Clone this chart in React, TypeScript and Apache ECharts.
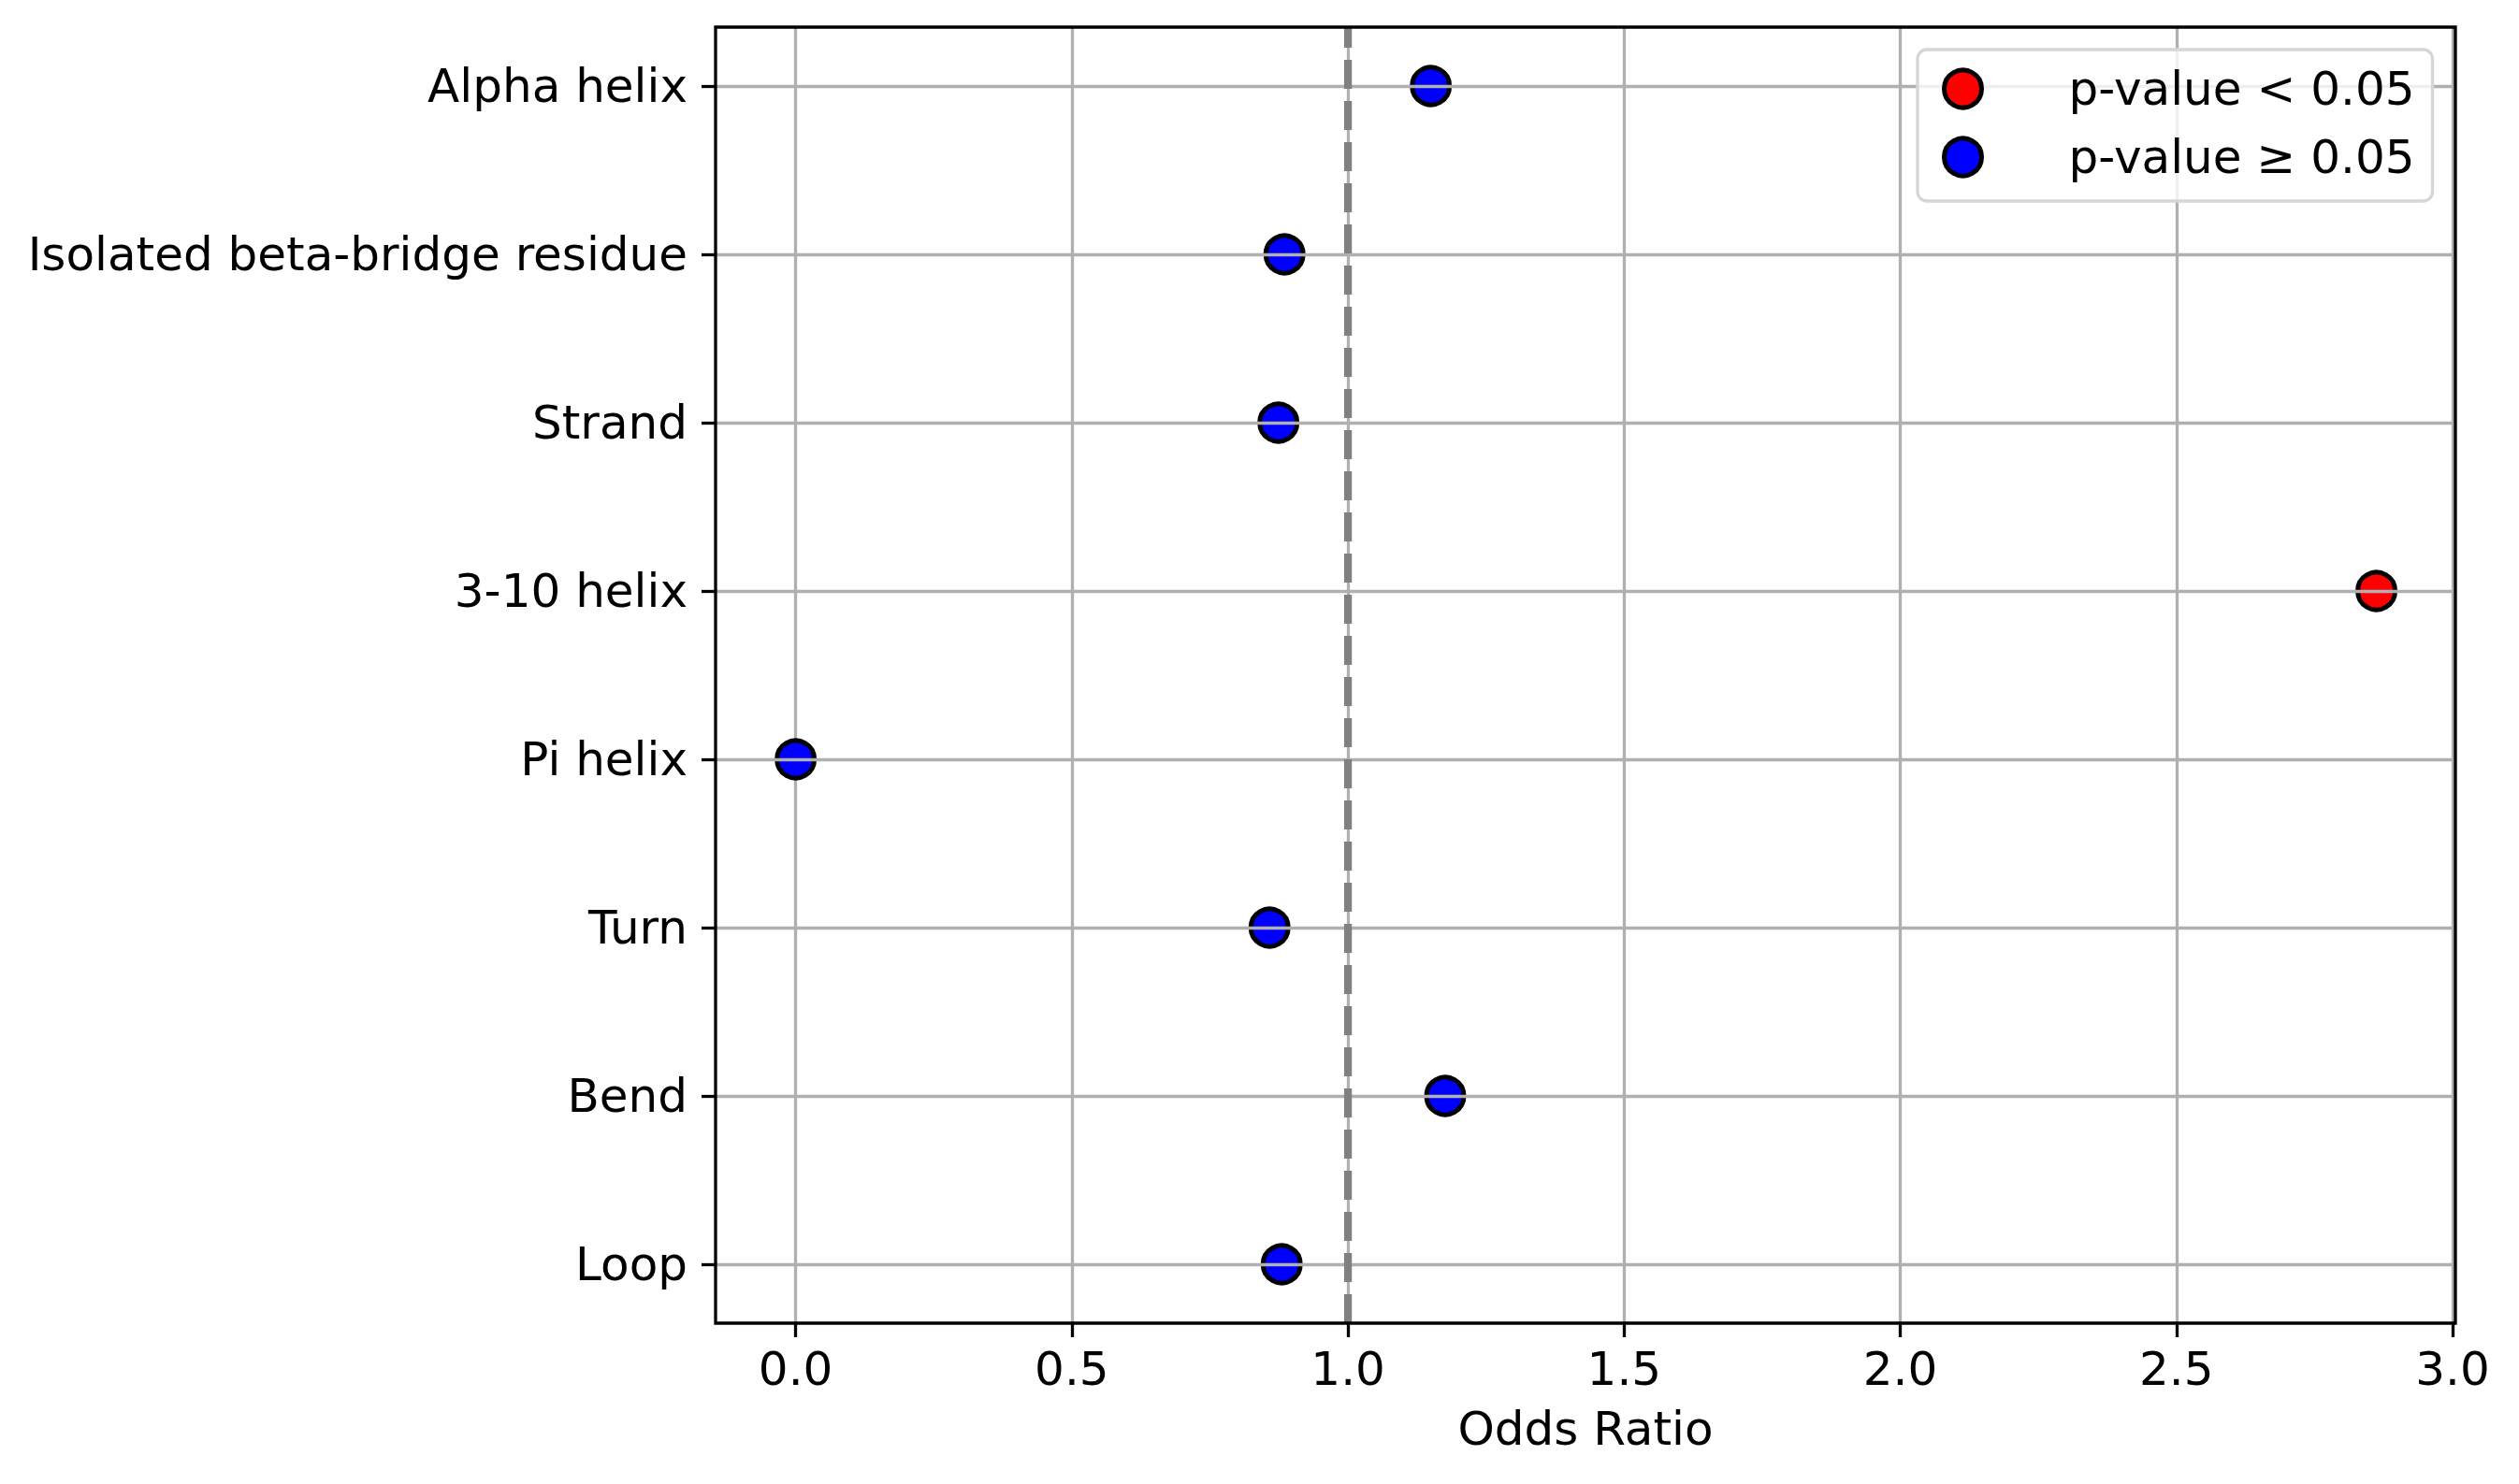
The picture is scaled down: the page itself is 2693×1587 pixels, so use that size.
import React, { useEffect, useRef } from "react";
import * as echarts from "echarts";

// ---- data ----
const categories = [
  "Alpha helix",
  "Isolated beta-bridge residue",
  "Strand",
  "3-10 helix",
  "Pi helix",
  "Turn",
  "Bend",
  "Loop",
];
const oddsRatios = [1.15, 0.885, 0.874, 2.862, 0.0, 0.858, 1.176, 0.88];
const significant = [false, false, false, true, false, false, false, false];
const legendNames = ["p-value < 0.05", "p-value \u2265 0.05"];
const referenceOdds = 1.0;
const xAxisMin = -0.145;
const xAxisMax = 3.005;
const xTickMin = 0;
const xTickMax = 3;
const xTickStep = 0.5;

// ---- layout ----
const W = 2693;
const H = 1587;
const FRAME_L = 765;
const FRAME_T = 29;
const FRAME_R = 2625;
const FRAME_B = 1415;
const FONT = "'DejaVu Sans', sans-serif";

export default function App() {
  const ref = useRef<HTMLDivElement>(null);
  useEffect(() => {
    if (!ref.current) return;
    const chart = echarts.init(ref.current, null, { renderer: "svg" });

    const frameW = FRAME_R - FRAME_L;
    const frameH = FRAME_B - FRAME_T;
    const ppu = frameW / (xAxisMax - xAxisMin);
    const tickGridL = FRAME_L + (xTickMin - xAxisMin) * ppu;
    const tickGridW = (xTickMax - xTickMin) * ppu;
    const yMargin = 0.35;
    const rowH = frameH / (categories.length - 1 + 2 * yMargin);
    const rowGridT = FRAME_T + yMargin * rowH;
    const rowGridH = (categories.length - 1) * rowH;

    const sigData: [number, string][] = [];
    const nsData: [number, string][] = [];
    categories.forEach((c, i) => {
      (significant[i] ? sigData : nsData).push([oddsRatios[i], c]);
    });

    const gridColor = "#b0b0b0";
    const lw = 3.3;

    const option: any = {
      animation: false,
      backgroundColor: "#ffffff",
      textStyle: { fontFamily: FONT },
      grid: [
        // 0: x ticks / vertical gridlines
        { left: tickGridL, top: FRAME_T, width: tickGridW, height: frameH, show: false },
        // 1: category rows / data
        { left: FRAME_L, top: rowGridT, width: frameW, height: rowGridH, show: false },
        // 2: frame
        {
          left: FRAME_L,
          top: FRAME_T,
          width: frameW,
          height: frameH,
          show: true,
          borderColor: "#000000",
          borderWidth: lw,
          backgroundColor: "transparent",
          z: 5,
        },
      ],
      xAxis: [
        {
          gridIndex: 0,
          type: "value",
          min: xTickMin,
          max: xTickMax,
          interval: xTickStep,
          z: 0,
          axisLine: { show: false, onZero: false },
          axisTick: { show: true, length: 15, lineStyle: { color: "#000", width: lw } },
          axisLabel: {
            show: true,
            margin: 24,
            fontSize: 50,
            color: "#000",
            fontFamily: FONT,
            formatter: (v: number) => v.toFixed(1),
          },
          splitLine: { show: true, lineStyle: { color: gridColor, width: lw } },
        },
        {
          gridIndex: 1,
          type: "value",
          min: xAxisMin,
          max: xAxisMax,
          show: false,
          axisLine: { onZero: false },
        },
        {
          gridIndex: 2,
          type: "value",
          min: xAxisMin,
          max: xAxisMax,
          axisLine: { show: false, onZero: false },
          axisTick: { show: false },
          axisLabel: { show: false },
          splitLine: { show: false },
          name: "Odds Ratio",
          nameLocation: "middle",
          nameGap: 88,
          nameTextStyle: { fontSize: 50, color: "#000", fontFamily: FONT },
        },
      ],
      yAxis: [
        { gridIndex: 0, type: "value", min: 0, max: 1, show: false, axisLine: { onZero: false } },
        {
          gridIndex: 1,
          type: "category",
          data: categories,
          inverse: true,
          boundaryGap: false,
          position: "left",
          z: 3,
          axisLine: { show: false, onZero: false },
          axisTick: {
            show: true,
            length: 15,
            interval: 0,
            lineStyle: { color: "#000", width: lw },
          },
          axisLabel: {
            show: true,
            interval: 0,
            margin: 30,
            fontSize: 50,
            color: "#000",
            fontFamily: FONT,
          },
          splitLine: { show: true, interval: 0, lineStyle: { color: gridColor, width: lw } },
        },
        { gridIndex: 2, type: "value", show: false, axisLine: { onZero: false } },
      ],
      legend: {
        orient: "vertical",
        left: 2050,
        top: 53,
        padding: [17, 19, 22, 26],
        itemWidth: 90,
        itemHeight: 40,
        itemGap: 23,
        backgroundColor: "rgba(255,255,255,0.8)",
        borderColor: "#d6d6d6",
        borderWidth: lw,
        borderRadius: 10,
        z: 8,
        data: legendNames.map((n) => ({ name: n, icon: "circle" })),
        itemStyle: { borderColor: "#000", borderWidth: 5 },
        textStyle: {
          fontSize: 50,
          lineHeight: 50,
          color: "#000",
          fontFamily: FONT,
          padding: [0, 0, 0, 63],
        },
      },
      series: [
        {
          name: "reference",
          type: "line",
          xAxisIndex: 0,
          yAxisIndex: 0,
          data: [
            [referenceOdds, 0],
            [referenceOdds, 1],
          ],
          showSymbol: false,
          symbol: "none",
          silent: true,
          z: 4,
          lineStyle: { color: "#808080", width: 8.3, type: [31, 13] },
        },
        {
          name: legendNames[0],
          type: "scatter",
          xAxisIndex: 1,
          yAxisIndex: 1,
          data: sigData,
          symbol: "circle",
          symbolSize: 40,
          z: 1,
          itemStyle: { color: "#ff0000", borderColor: "#000000", borderWidth: 5, opacity: 1 },
        },
        {
          name: legendNames[1],
          type: "scatter",
          xAxisIndex: 1,
          yAxisIndex: 1,
          data: nsData,
          symbol: "circle",
          symbolSize: 40,
          z: 1,
          itemStyle: { color: "#0000ff", borderColor: "#000000", borderWidth: 5, opacity: 1 },
        },
      ],
    };
    chart.setOption(option);
    return () => chart.dispose();
  }, []);
  return (
    <div
      ref={ref}
      style={{ position: "fixed", left: 0, top: 0, width: W, height: H, background: "#fff" }}
    />
  );
}
